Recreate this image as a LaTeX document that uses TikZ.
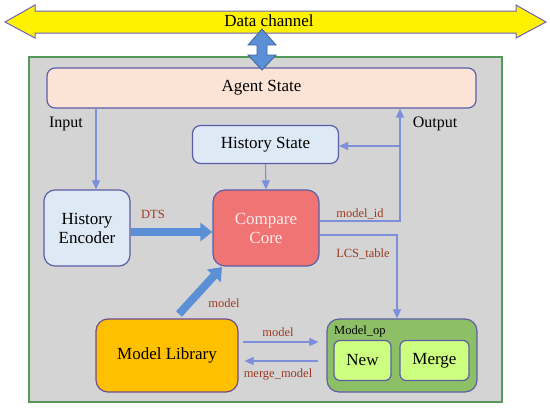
\documentclass[tikz,border=0pt]{standalone}
\usepackage{fontspec}
\setmainfont{Liberation Serif}
\usetikzlibrary{arrows.meta}
\definecolor{bord}{HTML}{5B5EA6}
\definecolor{conn}{HTML}{7B8FDC}
\definecolor{thickc}{HTML}{5B8FD6}
\definecolor{lab}{HTML}{9C3A22}
\definecolor{grayfill}{HTML}{D4D4D4}
\definecolor{gborder}{HTML}{56985A}
\definecolor{agentfill}{HTML}{FBE3D5}
\definecolor{histfill}{HTML}{DDE9F5}
\definecolor{corefill}{HTML}{F07474}
\definecolor{libfill}{HTML}{FFC000}
\definecolor{opfill}{HTML}{8DC066}
\definecolor{subfill}{HTML}{CCFF80}
\definecolor{chanborder}{HTML}{7060C0}
\tikzset{
  box/.style={draw=bord, line width=1.2pt, rounded corners=8pt, inner sep=0pt, align=center, font=\fontsize{17}{19}\selectfont},
  cline/.style={draw=conn, line width=1.1pt},
  carrow/.style={cline, -{Triangle[width=8pt,length=9pt]}},
  tarrow/.style={draw=thickc, line width=8pt, -{Triangle[width=18pt,length=12pt]}},
  lbl/.style={text=lab, font=\fontsize{12.5}{14}\selectfont, inner sep=0pt},
}
\begin{document}
\begin{tikzpicture}[x=1pt,y=-1pt]
\useasboundingbox (0,0) rectangle (550,408);
% data channel
\fill[yellow, draw=chanborder, line width=1pt] (5,22) -- (35,5) -- (35,11) -- (516,11) -- (516,5) -- (546,22) -- (516,38) -- (516,33) -- (35,33) -- (35,38) -- cycle;
\node[font=\fontsize{17}{19}\selectfont, inner sep=0pt] (chan) at (269,21) {Data channel};
% outer frame
\node[draw=gborder, fill=grayfill, line width=2pt, minimum width=473pt, minimum height=345pt, inner sep=0pt] (frame) at (265.5,229.5) {};
% boxes
\node[box, fill=agentfill, minimum width=429pt, minimum height=40pt] (agent) at (261.5,88) {Agent State};
\node[box, fill=histfill, minimum width=146pt, minimum height=38pt] (hs) at (265.5,144.5) {History State};
\node[box, fill=histfill, minimum width=86pt, minimum height=76pt, rounded corners=11pt] (enc) at (87,228) {History\\Encoder};
\node[box, fill=corefill, minimum width=106pt, minimum height=76pt, rounded corners=12pt, text=white!85!corefill] (cc) at (266,228) {Compare\\Core};
\node[box, fill=libfill, minimum width=142pt, minimum height=73pt, rounded corners=12pt, draw=bord!80!purple] (lib) at (167,355.5) {Model Library};
\node[box, fill=opfill, minimum width=150pt, minimum height=73pt, rounded corners=12pt] (op) at (402,355.5) {};
\node[font=\fontsize{12.5}{14}\selectfont, inner sep=0pt, anchor=west] (oplab) at (334,331) {Model\_op};
\node[box, fill=subfill, minimum width=57pt, minimum height=40pt, rounded corners=6pt] (new) at (362.5,360.5) {New};
\node[box, fill=subfill, minimum width=69pt, minimum height=40pt, rounded corners=6pt] (merge) at (434.5,360.5) {Merge};
% vertical double arrow
\fill[fill=thickc, draw=thickc!70!black, line width=0.8pt] (262,29) -- (276,45) -- (267,45) -- (267,55) -- (276,55) -- (262,70) -- (248,55) -- (257,55) -- (257,45) -- (248,45) -- cycle;
% coordinates
\coordinate (inx) at (96,0);
\coordinate (outx) at (400,0);
\coordinate (lcsx) at (397,0);
\coordinate (midy) at (0,146);
\coordinate (idy) at (0,221);
\coordinate (lcsy) at (0,235);
\coordinate (dtsy) at (0,232);
% connectors
\draw[carrow] (agent.south -| inx) -- (enc.north -| inx);
\node[font=\fontsize{16}{18}\selectfont, inner sep=0pt] (inlab) at (66,124) {Input};
\draw[carrow] (cc.east |- idy) -- (outx |- idy) -- (agent.south -| outx);
\node[font=\fontsize{16}{18}\selectfont, inner sep=0pt] (outlab) at (435,124) {Output};
\draw[carrow] (outx |- midy) -- (hs.east |- midy);
\draw[carrow] (hs.south) -- (cc.north);
\draw[carrow] (cc.east |- lcsy) -- (lcsx |- lcsy) -- (op.north -| lcsx);
\node[lbl] (idlab) at (360,214) {model\_id};
\node[lbl] (lcslab) at (363,254) {LCS\_table};
\draw[tarrow] (enc.east |- dtsy) -- (cc.west |- dtsy);
\node[lbl] (dtslab) at (153,214) {DTS};
\coordinate (dstart) at (179,314);
\coordinate (dend) at (222,267);
\draw[tarrow] (dstart) -- (dend);
\node[lbl] (mlab) at (224,303) {model};
\coordinate (ay) at (0,342);
\coordinate (by) at (0,361);
\draw[carrow] ([xshift=4pt]lib.east |- ay) -- ([xshift=-8pt]op.west |- ay);
\draw[carrow] ([xshift=-8pt]op.west |- by) -- ([xshift=6pt]lib.east |- by);
\node[lbl] (m2lab) at (278,332) {model};
\node[lbl] (mmlab) at (278,375) {merge\_model};
\end{tikzpicture}
\end{document}
